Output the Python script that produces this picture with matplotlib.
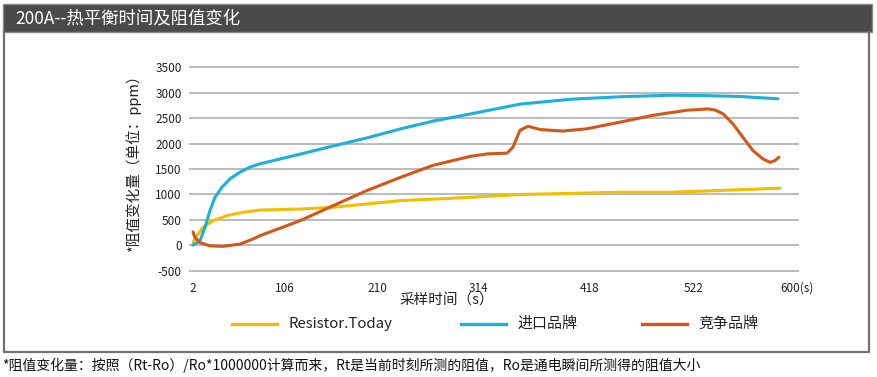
import matplotlib.pyplot as plt
from matplotlib.patches import Rectangle
from matplotlib.lines import Line2D

plt.rcParams['font.family'] = ['Noto Sans CJK SC', 'DejaVu Sans']

# x tick labels as printed, and where they sit on the time axis
x_tick_pos = [2, 94, 186, 287, 399, 503, 606]
x_tick_labels = ['2', '106', '210', '314', '418', '522', '600(s)']
y_ticks = [-500, 0, 500, 1000, 1500, 2000, 2500, 3000, 3500]

# Resistor.Today (yellow)
t_rt = [2, 6, 12, 22, 36, 52, 69, 109, 142, 176, 209, 259, 329, 429, 479, 529, 589]
r_rt = [50, 185, 350, 480, 580, 645, 690, 710, 745, 810, 875, 920, 995, 1040, 1040, 1075, 1120]

# 进口品牌 (blue)
t_imp = [2, 9, 14, 19, 24, 31, 39, 49, 59, 69, 109, 142, 176, 209, 242, 279, 329, 379, 429,
         479, 509, 549, 587]
r_imp = [0, 85, 350, 680, 940, 1140, 1305, 1435, 1535, 1600, 1790, 1950, 2110, 2285, 2440,
         2580, 2775, 2870, 2920, 2950, 2945, 2925, 2880]

# 竞争品牌 (orange)
t_comp = [2, 4, 9, 19, 32, 49, 62, 69, 109, 142, 176, 209, 242, 262, 279, 296, 316, 322, 329,
          337, 349, 372, 396, 429, 462, 496, 509, 517, 524, 532, 542, 552, 562, 572, 579, 584, 588]
r_comp = [260, 150, 50, -15, -25, 20, 120, 185, 480, 775, 1075, 1330, 1570, 1665, 1745, 1795,
          1810, 1930, 2260, 2340, 2275, 2245, 2290, 2420, 2555, 2655, 2670, 2680, 2660, 2585,
          2385, 2120, 1860, 1695, 1630, 1665, 1730]

c_rt = '#f2be00'
c_imp = '#1cb0da'
c_comp = '#d5561a'

fig = plt.figure(figsize=(8.77, 3.77), dpi=100)

# dark title bar and the panel frame
fig.patches.append(Rectangle((3/877, 1-32/377), 869/877, 28/377, transform=fig.transFigure,
                             facecolor='#4a4a4a', edgecolor='#8a8a8a', lw=1))
fig.text(15/877, 1-18/377, '200A--热平衡时间及阻值变化', color='white', fontsize=12.5,
         va='center', ha='left')
frame_x = [4/877, 4/877, 869/877, 869/877]
frame_y = [1-32/377, 1-352/377, 1-352/377, 1-32/377]
fig.add_artist(Line2D(frame_x, frame_y, transform=fig.transFigure, color='#707070', lw=1.6))

ax = fig.add_axes([190/877, 1-270.5/377, 608/877, 203.2/377])
ax.plot(t_rt, r_rt, color=c_rt, lw=2.2, solid_capstyle='round', solid_joinstyle='round', zorder=3)
ax.plot(t_imp, r_imp, color=c_imp, lw=2.2, solid_capstyle='round', solid_joinstyle='round', zorder=3)
ax.plot(t_comp, r_comp, color=c_comp, lw=2.2, solid_capstyle='round', solid_joinstyle='round', zorder=3)

ax.set_xlim(-1, 607)
ax.set_ylim(-500, 3500)
ax.set_yticks(y_ticks)
ax.set_yticklabels([str(v) for v in y_ticks])
ax.set_xticks(x_tick_pos)
ax.set_xticklabels(x_tick_labels)
ax.tick_params(length=0, labelsize=8.5, colors='#222222')
ax.tick_params(axis='y', pad=6)
ax.tick_params(axis='x', pad=8)
ax.grid(axis='y', color='#bdbdbd', lw=1.5, clip_on=False)
ax.set_axisbelow(True)
for s in ax.spines.values():
    s.set_visible(False)

fig.text(133/877, 1-160/377, '*阻值变化量（单位：ppm）', rotation=90, fontsize=10.5,
         ha='center', va='center', color='#222222')
fig.text(447/877, 1-301/377, '采样时间（s）', fontsize=10.5, ha='center', va='center',
         color='#222222')

# legend drawn by hand to match the spread-out layout
legend_items = [('Resistor.Today', c_rt, 232), ('进口品牌', c_imp, 461), ('竞争品牌', c_comp, 642)]
for name, col, x0 in legend_items:
    fig.add_artist(Line2D([x0/877, (x0+45)/877], [1-324/377, 1-324/377],
                          transform=fig.transFigure, color=col, lw=2.4))
    fig.text((x0+56)/877, 1-324/377, name, fontsize=10.8, va='center', ha='left', color='#222222')

fig.text(2/877, 1-365/377,
         '*阻值变化量：按照（Rt-Ro）/Ro*1000000计算而来，Rt是当前时刻所测的阻值，Ro是通电瞬间所测得的阻值大小',
         fontsize=10, va='center', ha='left', color='#111111')

plt.savefig('out.png', dpi=100)
